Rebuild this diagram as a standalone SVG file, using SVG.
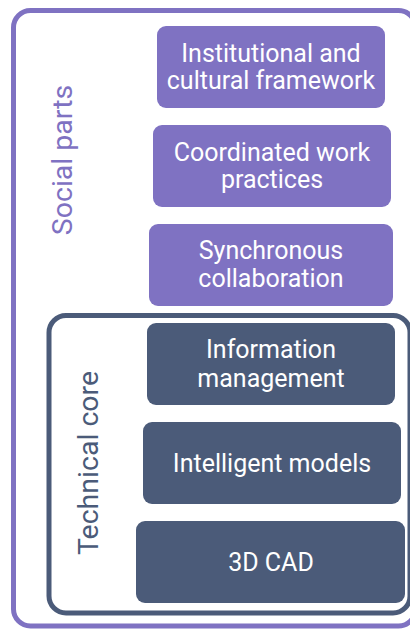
<svg xmlns="http://www.w3.org/2000/svg" width="410" height="630" viewBox="0 0 410 630">
  <style>
    .frame { fill: none; stroke-width: 5; }
    .social { fill: #7f72c2; }
    .tech { fill: #4b5b79; }
    .lbl { font-family: Roboto, "Liberation Sans", sans-serif; font-size: 25px; fill: #ffffff; text-anchor: middle; }
    .side { font-family: Roboto, "Liberation Sans", sans-serif; font-size: 28.5px; text-anchor: middle; }
  </style>
  <rect width="410" height="630" fill="#ffffff"/>
  <g id="social-parts">
    <rect class="frame" x="13.5" y="10.5" width="402" height="615.5" rx="17" stroke="#7f72c2"/>
    <text class="side" fill="#7f72c2" transform="translate(72 160) rotate(-90)">Social parts</text>
  </g>
  <g id="technical-core">
    <rect class="frame" x="49" y="315.5" width="361" height="297.5" rx="17" stroke="#4b5b79"/>
    <text class="side" fill="#4b5b79" transform="translate(98 463) rotate(-90)">Technical core</text>
  </g>
  <g id="institutional">
    <rect class="social" x="157" y="26" width="228" height="82" rx="9"/>
    <text class="lbl" x="271" y="62">Institutional and</text>
    <text class="lbl" x="271" y="89">cultural framework</text>
  </g>
  <g id="coordinated">
    <rect class="social" x="153" y="125" width="238" height="82" rx="9"/>
    <text class="lbl" x="272" y="161">Coordinated work</text>
    <text class="lbl" x="272" y="188">practices</text>
  </g>
  <g id="synchronous">
    <rect class="social" x="149" y="224" width="244" height="82" rx="9"/>
    <text class="lbl" x="271" y="259">Synchronous</text>
    <text class="lbl" x="271" y="287">collaboration</text>
  </g>
  <g id="information">
    <rect class="tech" x="147" y="323" width="248" height="82" rx="9"/>
    <text class="lbl" x="271" y="358">Information</text>
    <text class="lbl" x="271" y="387">management</text>
  </g>
  <g id="intelligent">
    <rect class="tech" x="143" y="422" width="258" height="82" rx="9"/>
    <text class="lbl" x="272" y="472">Intelligent models</text>
  </g>
  <g id="cad">
    <rect class="tech" x="136" y="521" width="269" height="82" rx="9"/>
    <text class="lbl" x="271" y="571">3D CAD</text>
  </g>
  <g id="connectors"/>
</svg>
